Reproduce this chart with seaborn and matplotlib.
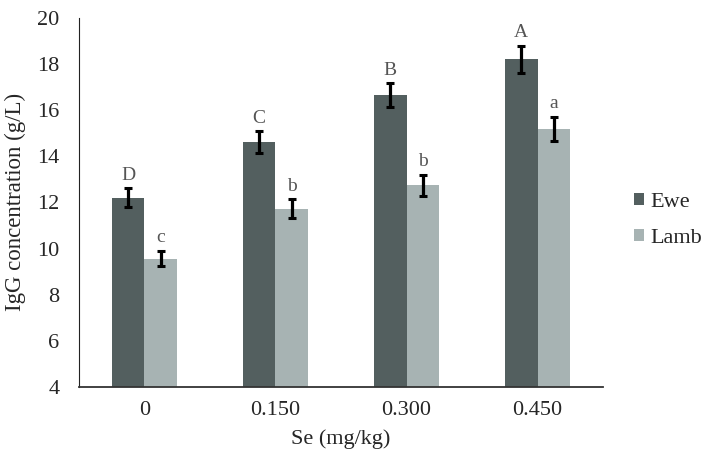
import numpy as np
import matplotlib.pyplot as plt
import pandas as pd
import seaborn as sns

# 数据
se_levels = ['0', '0.150', '0.300', '0.450']
ewe_mean = [12.2, 14.62, 16.64, 18.2]
lamb_mean = [9.56, 11.72, 12.74, 15.18]
ewe_err = [0.41, 0.47, 0.52, 0.58]
lamb_err = [0.33, 0.41, 0.45, 0.52]
ewe_letters = ['D', 'C', 'B', 'A']
lamb_letters = ['c', 'b', 'b', 'a']

df = pd.DataFrame({
    'Se': se_levels * 2,
    'IgG': ewe_mean + lamb_mean,
    'Group': ['Ewe'] * 4 + ['Lamb'] * 4,
})

sns.set_style('white')
plt.rcParams['font.family'] = ['Liberation Serif', 'DejaVu Serif']

fig = plt.figure(figsize=(7.02, 4.59), dpi=100)
ax = fig.add_axes([0.1125, 0.157, 0.7465, 0.804])

sns.barplot(data=df, x='Se', y='IgG', hue='Group', errorbar=None,
            palette={'Ewe': '#535f5f', 'Lamb': '#a7b3b3'},
            width=0.5, gap=0, saturation=1, linewidth=0, ax=ax)

# 误差线和显著性字母
bars = ax.patches[:8]
errs = ewe_err + lamb_err
means = ewe_mean + lamb_mean
letters = ewe_letters + lamb_letters
for bar, m, e, lt in zip(bars, means, errs, letters):
    cx = bar.get_x() + bar.get_width() / 2
    ax.errorbar(cx, m, yerr=e, fmt='none', ecolor='black',
                elinewidth=2.3, capsize=3, capthick=2.2)
    ax.text(cx, m + e + 0.2, lt, ha='center', va='bottom',
            fontsize=14, color='#555555')

ax.set_ylim(4, 20)
ax.set_yticks(range(4, 21, 2))
ax.set_xlim(-0.5, 3.5)
ax.tick_params(axis='y', labelsize=16, length=0, pad=14)
ax.tick_params(axis='x', labelsize=16, length=0, pad=10)
ax.set_xlabel('Se (mg/kg)', fontsize=16, labelpad=7)
ax.set_ylabel('IgG concentration (g/L)', fontsize=16.5, labelpad=8)

for s in ['top', 'right']:
    ax.spines[s].set_visible(False)
ax.spines['bottom'].set_color('#333333')
ax.spines['bottom'].set_linewidth(1.3)
ax.spines['left'].set_color('#222222')
ax.spines['left'].set_linewidth(0.8)

ax.legend(title=None, frameon=False, fontsize=16, loc='center left',
          bbox_to_anchor=(0.903, 0.52), bbox_transform=fig.transFigure,
          borderpad=0, borderaxespad=0,
          handlelength=0.45, handleheight=0.45, handletextpad=0.3,
          labelspacing=0.75)

plt.savefig('out.png', dpi=100)
